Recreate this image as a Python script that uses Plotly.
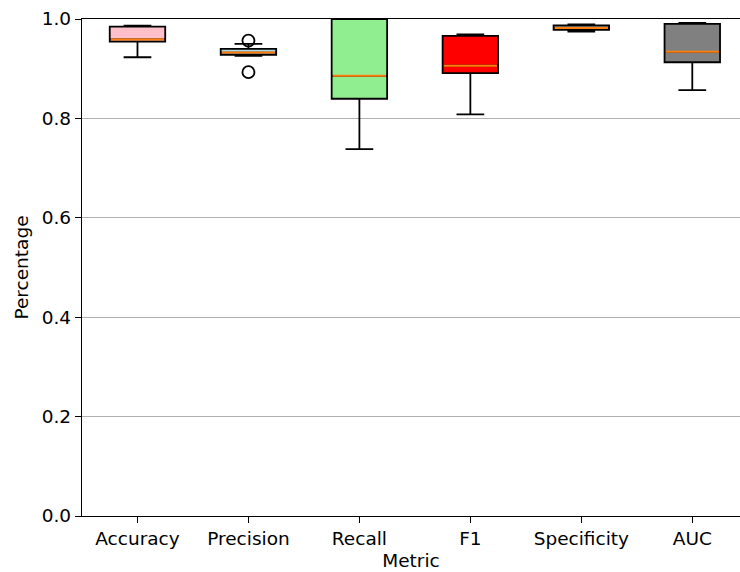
import plotly.graph_objects as go

metrics = ["Accuracy", "Precision", "Recall", "F1", "Specificity", "AUC"]
positions = [1, 2, 3, 4, 5, 6]
lower_whisker = [0.923, 0.926, 0.738, 0.808, 0.9746, 0.857]
q1_vals = [0.9545, 0.928, 0.8395, 0.891, 0.978, 0.913]
medians = [0.959, 0.9324, 0.8857, 0.906, 0.982, 0.934]
q3_vals = [0.9846, 0.940, 1.000, 0.966, 0.987, 0.990]
upper_whisker = [0.9866, 0.950, 1.000, 0.969, 0.989, 0.992]
fill_colors = ["pink", "lightblue", "lightgreen", "red", "gray", "gray"]
outlier_metric = ["Precision", "Precision"]
outlier_values = [0.9565, 0.893]

FONT = "DejaVu Sans"
FS = 18.5
BOX_W = 0.5

fig = go.Figure()
for i, m in enumerate(metrics):
    fig.add_trace(go.Box(
        x=[positions[i]], q1=[q1_vals[i]], median=[medians[i]], q3=[q3_vals[i]],
        lowerfence=[lower_whisker[i]], upperfence=[upper_whisker[i]],
        width=BOX_W, whiskerwidth=0.5, fillcolor=fill_colors[i],
        line=dict(color="black", width=1.8), boxpoints=False,
        showlegend=False, name=m,
    ))
    fig.add_trace(go.Scatter(
        x=[positions[i] - BOX_W / 2 + 0.01, positions[i] + BOX_W / 2 - 0.01],
        y=[medians[i], medians[i]], mode="lines",
        line=dict(color="#ff7f0e", width=2), showlegend=False, hoverinfo="skip",
    ))

fig.add_trace(go.Scatter(
    x=[positions[metrics.index(m)] for m in outlier_metric], y=outlier_values,
    mode="markers",
    marker=dict(symbol="circle-open", size=12, color="black", line=dict(width=1.8)),
    showlegend=False,
))

fig.update_layout(
    width=740, height=572,
    margin=dict(l=82, r=0, t=19, b=56),
    paper_bgcolor="white", plot_bgcolor="white",
    font=dict(family=FONT, size=FS, color="black"),
    boxmode="overlay",
)
fig.update_xaxes(
    range=[0.5, 6.43], tickvals=positions, ticktext=metrics,
    showline=True, linecolor="black", linewidth=1.3, mirror=True,
    ticks="outside", ticklen=6, tickwidth=1.3, tickcolor="black",
    showgrid=False, zeroline=False, automargin=False,
    title=dict(text="Metric", font=dict(size=FS), standoff=5),
)
fig.update_yaxes(
    range=[0, 1], tickvals=[0, 0.2, 0.4, 0.6, 0.8, 1.0], tickformat=".1f",
    showline=True, linecolor="black", linewidth=1.3,
    ticks="outside", ticklen=6, tickwidth=1.3, tickcolor="black",
    showgrid=True, gridcolor="#b0b0b0", gridwidth=1.2, zeroline=False, automargin=False,
    title=dict(text="Percentage", font=dict(size=FS), standoff=8),
)

fig.write_html("out.html", config={"displayModeBar": False},
               post_script="document.body.style.margin='0';")
